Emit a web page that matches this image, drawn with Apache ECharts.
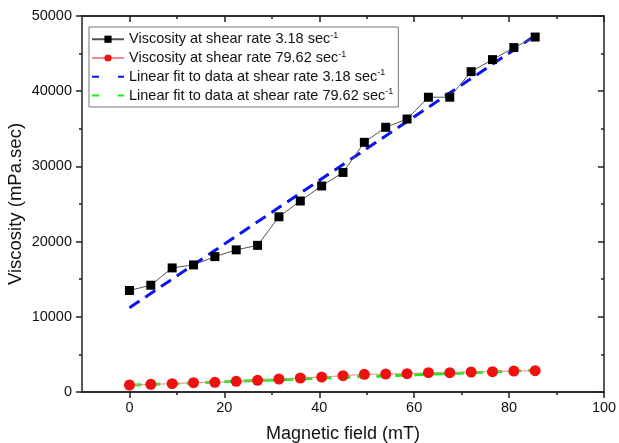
<!DOCTYPE html>
<html>
<head>
<meta charset="utf-8">
<title>Viscosity vs magnetic field</title>
<script src="https://cdn.jsdelivr.net/npm/echarts@6/dist/echarts.min.js"></script>
<style>
  html, body { margin: 0; padding: 0; background: #fff; }
  #chart { width: 619px; height: 443px; }
</style>
</head>
<body>
<div id="chart"></div>
<script>
// ---------------------------------------------------
// Data
// ---------------------------------------------------
const magneticField = [0, 4.5, 9, 13.5, 18, 22.5, 27, 31.5, 36, 40.5, 45, 49.5, 54, 58.5, 63, 67.5, 72, 76.5, 81, 85.5];
const viscosity318 = [13500, 14200, 16500, 16900, 18000, 18900, 19500, 23300, 25400, 27400,
                      29200, 33200, 35200, 36300, 39200, 39200, 42600, 44200, 45800, 47200];
const viscosity7962 = [930, 1020, 1100, 1240, 1280, 1420, 1550, 1730, 1860, 1990,
                       2170, 2350, 2390, 2430, 2570, 2570, 2660, 2700, 2790, 2840];

// fit lines: end points only
const fitField = [0, 85.5];
const fit318 = [11200, 47400];
const fit7962 = [900, 2880];

const xMajorTicks = [0, 20, 40, 60, 80, 100];
const xMinorTicks = [10, 30, 50, 70, 90];

const seriesNames = [
  "Viscosity at shear rate 3.18 sec",
  "Viscosity at shear rate 79.62 sec",
  "Linear fit to data at shear rate 3.18 sec",
  "Linear fit to data at shear rate 79.62 sec"
];

const pairs = (xs, ys) => xs.map((x, i) => [x, ys[i]]);

// ---------------------------------------------------
// Axes helpers
// ---------------------------------------------------
const FONT = "Liberation Sans, Arial, sans-serif";
const axisLine = { show: true, onZero: false, lineStyle: { color: "#222", width: 1.5 } };

function xAxisDef(position, ticks, len, inside, showLabels) {
  return {
    type: "value",
    position: position,
    min: -10,
    max: 100,
    axisLine: axisLine,
    splitLine: { show: false },
    axisTick: { show: true, customValues: ticks, length: len, inside: inside,
                lineStyle: { color: "#222", width: 1.5 } },
    axisLabel: showLabels
      ? { show: true, customValues: ticks, color: "#111", fontFamily: FONT, fontSize: 14.5, margin: 8 }
      : { show: false }
  };
}

function yAxisDef(position, inside, showLabels) {
  return {
    type: "value",
    position: position,
    min: 0,
    max: 50000,
    interval: 10000,
    axisLine: axisLine,
    splitLine: { show: false },
    axisTick: { show: true, length: 6, inside: inside, lineStyle: { color: "#222", width: 1.5 } },
    minorTick: { show: true, splitNumber: 2, length: 3, lineStyle: { color: "#222", width: 1.5 } },
    axisLabel: showLabels
      ? { show: true, color: "#111", fontFamily: FONT, fontSize: 14.5, margin: 10,
          formatter: v => String(v) }
      : { show: false }
  };
}

// ---------------------------------------------------
// Chart
// ---------------------------------------------------
const chart = echarts.init(document.getElementById("chart"), null, { renderer: "canvas" });

const xBottom = xAxisDef("bottom", xMajorTicks, 6, false, true);
xBottom.name = "Magnetic field (mT)";
xBottom.nameLocation = "middle";
xBottom.nameGap = 33;
xBottom.nameMoveOverlap = false;
xBottom.nameTextStyle = { color: "#111", fontFamily: FONT, fontSize: 18 };

const yLeft = yAxisDef("left", false, true);
yLeft.name = "Viscosity (mPa.sec)";
yLeft.nameLocation = "middle";
yLeft.nameGap = 57;
yLeft.nameMoveOverlap = false;
yLeft.nameTextStyle = { color: "#111", fontFamily: FONT, fontSize: 18.5 };

// fit lines get no marker in the legend, only two dashes
const fitLegendItem = name => ({
  name: name,
  itemStyle: { opacity: 0, color: "rgba(0,0,0,0)", borderWidth: 0 },
  lineStyle: { type: [7, 19] }
});

chart.setOption({
  animation: false,
  backgroundColor: "#fff",
  grid: { left: 82, right: 15, top: 16, bottom: 51, containLabel: false, outerBoundsMode: "none" },
  xAxis: [
    xBottom,
    xAxisDef("bottom", xMinorTicks, 3, false, false),
    xAxisDef("top", xMajorTicks, 6, true, false),
    xAxisDef("top", xMinorTicks, 3, true, false)
  ],
  yAxis: [
    yLeft,
    yAxisDef("right", true, false)
  ],
  legend: {
    data: [
      { name: seriesNames[0] },
      { name: seriesNames[1] },
      fitLegendItem(seriesNames[2]),
      fitLegendItem(seriesNames[3])
    ],
    orient: "vertical",
    left: 89,
    top: 27,
    padding: [4, 5, 4, 2],
    itemGap: 3,
    itemWidth: 32,
    itemHeight: 9,
    borderColor: "#777",
    borderWidth: 1,
    backgroundColor: "#fff",
    formatter: name => `{t|${name}}{s|-1}`,
    textStyle: {
      rich: {
        t: { fontFamily: FONT, fontSize: 14.5, color: "#111", lineHeight: 16.5 },
        s: { fontFamily: FONT, fontSize: 9, color: "#111", verticalAlign: "top", lineHeight: 16.5, padding: [0, 0, 6, 0] }
      }
    }
  },
  series: [
    {
      name: seriesNames[2],
      type: "line",
      data: pairs(fitField, fit318),
      symbol: "none",
      z: 2,
      lineStyle: { color: "#0a14f0", width: 3, type: [12, 7] },
      itemStyle: { color: "#0a14f0" }
    },
    {
      name: seriesNames[3],
      type: "line",
      data: pairs(fitField, fit7962),
      symbol: "none",
      z: 2,
      lineStyle: { color: "#14f014", width: 3, type: [12, 7] },
      itemStyle: { color: "#14f014" }
    },
    {
      name: seriesNames[0],
      type: "line",
      data: pairs(magneticField, viscosity318),
      symbol: "rect",
      symbolSize: 9,
      z: 3,
      lineStyle: { color: "#555", width: 1 },
      itemStyle: { color: "#000" }
    },
    {
      name: seriesNames[1],
      type: "line",
      data: pairs(magneticField, viscosity7962),
      symbol: "circle",
      symbolSize: 11,
      z: 3,
      lineStyle: { color: "#f08a8a", width: 1 },
      itemStyle: { color: "#f01010" }
    }
  ]
});

window.addEventListener("resize", chart.resize);
</script>
</body>
</html>
